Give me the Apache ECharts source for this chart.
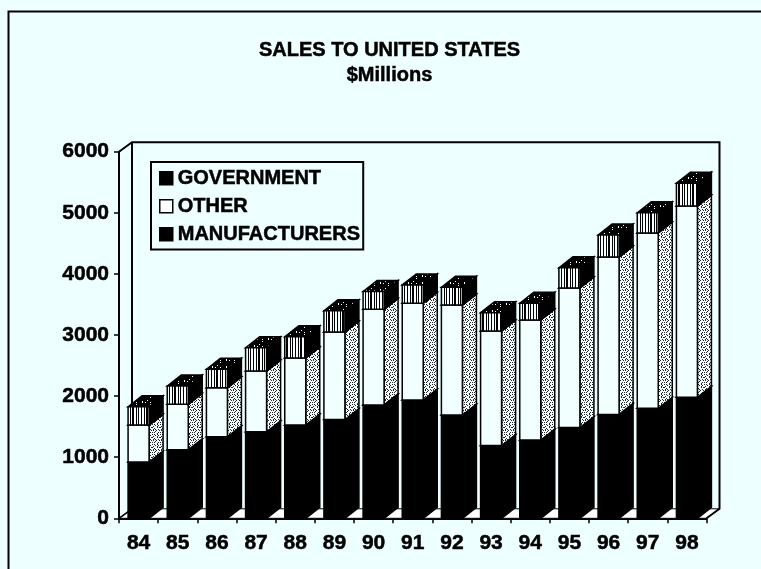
<!DOCTYPE html>
<html><head><meta charset="utf-8">
<style>html,body{margin:0;padding:0;background:#eeffff}#c{width:761px;height:569px}</style>
<script src="https://cdn.jsdelivr.net/npm/echarts@6/dist/echarts.min.js"></script>
</head><body><div id="c"></div>
<script>
const years = ['84','85','86','87','88','89','90','91','92','93','94','95','96','97','98'];
const manufacturers = [920,1120,1335,1415,1525,1615,1855,1935,1690,1190,1280,1485,1700,1800,1980];
const other = [605,745,800,995,1100,1435,1565,1585,1800,1875,1965,2285,2575,2870,3130];
const government = [300,300,305,380,345,345,290,300,290,300,275,330,360,330,375];
const yTicks = {min:0,max:6000,interval:1000};
const titleText = 'SALES TO UNITED STATES\n$Millions';

const DX = 13, DY = 9.5, BAR_DX = 14, BAR_DY = 11, BAR_W = 21;
const FONT = '"Liberation Sans", Arial, sans-serif';

function pattern(rows, fg, bg){
  const c = document.createElement('canvas');
  c.width = rows[0].length; c.height = rows.length;
  const g = c.getContext('2d');
  rows.forEach((r,y)=>{ for(let x=0;x<r.length;x++){ g.fillStyle = r[x]==='#'?fg:bg; g.fillRect(x,y,1,1);} });
  return {image:c, repeat:'repeat'};
}
const stipple = pattern([
  '.#..#..#',
  '...#....',
  '#.#...#.',
  '.....#..',
  '#.#..#..',
  '...#..#.',
  '.#...#..',
  '#....#.#',
  '..#.....',
  '.#.#..#.'], '#222', '#f6ffff');
const stripes = pattern(['.#..#.##..#.#.'], '#000', '#f6ffff');
const speck = pattern([
  '##############',
  '#######.######',
  '##.###########',
  '##.##.####.###',
  '##############',
  '##########.###',
  '##############'], '#000', '#fff');

function segment(side, front, topFill){
  return function(params, api){
    const x = api.value(0);
    const low = api.coord([x, api.value(1)]);
    const high = api.coord([x, api.value(2)]);
    const l = low[0] - BAR_W/2, r = l + BAR_W;
    const yb = low[1], yt = high[1];
    const ln = {stroke:'#000', lineWidth:1.5};
    return {type:'group', children:[
      {type:'polygon', shape:{points:[[r,yb],[r+BAR_DX,yb-BAR_DY],[r+BAR_DX,yt-BAR_DY],[r,yt]]}, style:Object.assign({fill:side},ln)},
      {type:'polygon', shape:{points:[[l,yt],[l+BAR_DX,yt-BAR_DY],[r+BAR_DX,yt-BAR_DY],[r,yt]]}, style:Object.assign({fill:topFill},ln)},
      {type:'rect', shape:{x:l,y:yt,width:BAR_W,height:yb-yt}, style:Object.assign({fill:front},ln)}
    ]};
  };
}
function rowsFor(lowers, vals){
  return vals.map((v,i)=>[i, lowers[i], lowers[i]+v]);
}
const zero = years.map(()=>0);
const mfgTop = manufacturers.slice();
const otherTop = manufacturers.map((v,i)=>v+other[i]);

function frame(params, api){
  const s = params.coordSys;
  const x0=s.x, y0=s.y, x1=s.x+s.width, y1=s.y+s.height;
  const ln = {fill:'none', stroke:'#000', lineWidth:1.5};
  return {type:'group', children:[
    {type:'polygon', shape:{points:[[x0,y1],[x0+DX,y1-DY],[x1+DX,y1-DY],[x1,y1]]}, style:{fill:'#fff',stroke:'#000',lineWidth:1}},
    {type:'polyline', shape:{points:[[x0,y0],[x0+DX,y0-DY],[x1+DX,y0-DY],[x1+DX,y1-DY],[x1,y1]]}, style:Object.assign({},ln,{lineWidth:2})},
    {type:'line', shape:{x1:x0+DX,y1:y0-DY,x2:x0+DX,y2:y1-DY}, style:Object.assign({},ln,{lineWidth:2})},
    {type:'line', shape:{x1:x0,y1:y1,x2:x0+DX,y2:y1-DY}, style:ln}
  ]};
}

const heavy = {textBorderColor:'#000', textBorderWidth:0.5};
const chart = echarts.init(document.getElementById('c'), null, {renderer:'canvas'});
const legendItem = (name, color) => ({name, icon:'rect', itemStyle:{color, borderColor:'#000', borderWidth:1.5}});
chart.setOption({
  backgroundColor:'#eeffff',
  animation:false,
  title:{text:titleText, left:384.5, top:33, textAlign:'center',
    textStyle:Object.assign({fontFamily:FONT, fontSize:20, fontWeight:'bold', color:'#000', lineHeight:24.7}, heavy)},
  graphic:[{type:'polyline', silent:true, shape:{points:[[8.5,569],[8.5,11.5],[761,11.5]]}, style:{fill:'none',stroke:'#000',lineWidth:2}}],
  legend:{orient:'vertical', left:151, top:162, padding:[6,3,5,8], itemGap:7.5, itemWidth:13, itemHeight:13,
    borderColor:'#000', borderWidth:2, selectedMode:false,
    textStyle:Object.assign({fontFamily:FONT, fontSize:20, fontWeight:'bold', color:'#000', lineHeight:20}, heavy),
    data:[legendItem('GOVERNMENT','#000'), legendItem('OTHER','#fff'), legendItem('MANUFACTURERS','#000')]},
  grid:{left:119, top:151.7, width:587.5, height:366.6, containLabel:false},
  xAxis:{type:'category', data:years, boundaryGap:true,
    axisLine:{show:true,onZero:false,lineStyle:{color:'#000',width:2}},
    axisTick:{show:true,alignWithLabel:false,length:5,lineStyle:{color:'#000',width:1.5}},
    axisLabel:Object.assign({interval:0,margin:14,fontFamily:FONT,fontSize:21,fontWeight:'bold',color:'#000'}, heavy)},
  yAxis:{type:'value', min:yTicks.min, max:yTicks.max, interval:yTicks.interval,
    splitLine:{show:false},
    axisLine:{show:true,lineStyle:{color:'#000',width:2}},
    axisTick:{show:true,length:5,lineStyle:{color:'#000',width:1.5}},
    axisLabel:Object.assign({margin:10,fontFamily:FONT,fontSize:21,fontWeight:'bold',color:'#000',formatter:v=>String(v)}, heavy)},
  series:[
    {type:'custom', name:'frame', coordinateSystem:'cartesian2d', z:1, silent:true, renderItem:frame, data:[[0,0]], encode:{x:0,y:1}},
    {type:'custom', name:'MANUFACTURERS', coordinateSystem:'cartesian2d', z:2, clip:false, renderItem:segment('#000','#000','#000'),
      data:rowsFor(zero,manufacturers), encode:{x:0,y:[1,2]}},
    {type:'custom', name:'OTHER', coordinateSystem:'cartesian2d', z:3, clip:false, renderItem:segment(stipple,'#f2ffff','#000'),
      data:rowsFor(mfgTop,other), encode:{x:0,y:[1,2]}},
    {type:'custom', name:'GOVERNMENT', coordinateSystem:'cartesian2d', z:4, clip:false, renderItem:segment('#000',stripes,speck),
      data:rowsFor(otherTop,government), encode:{x:0,y:[1,2]}}
  ]
});
</script></body></html>
